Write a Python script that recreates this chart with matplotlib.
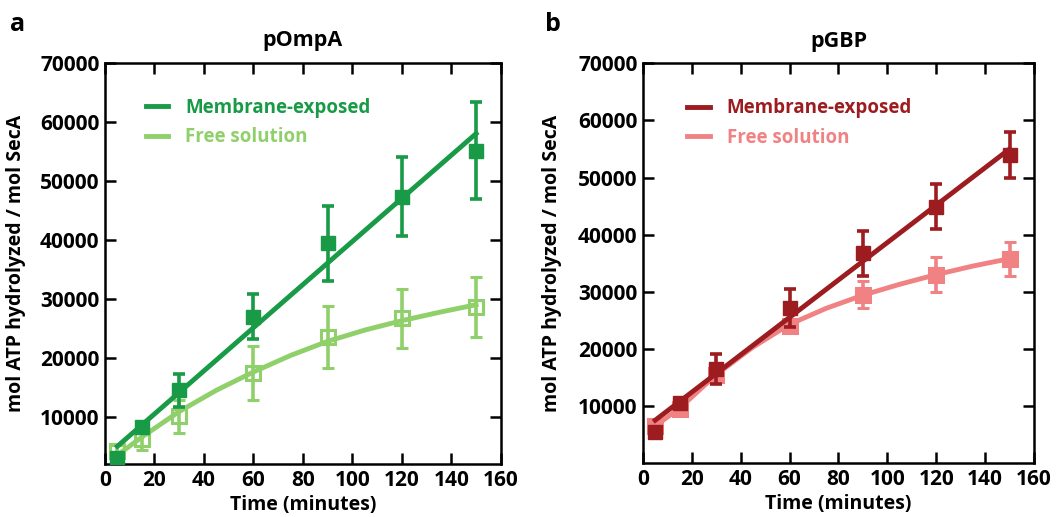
import matplotlib
matplotlib.use("Agg")
import matplotlib.pyplot as plt

plt.rcParams['font.family'] = ['Open Sans', 'DejaVu Sans']
plt.rcParams['font.weight'] = 'bold'

# time points (minutes)
t = [5, 15, 30, 60, 90, 120, 150]

# panel a: pOmpA
a_mem = [3100, 8200, 14500, 27000, 39400, 47300, 55100]
a_mem_err = [800, 900, 2800, 3800, 6300, 6700, 8200]
a_free = [4200, 6300, 10100, 17400, 23500, 26700, 28600]
a_free_err = [1000, 2000, 2800, 4600, 5300, 5000, 5100]
# fitted curves
a_mem_fit_t = [5, 150]
a_mem_fit = [5000, 58000]
a_free_fit_t = [5, 15, 30, 45, 60, 75, 90, 105, 120, 135, 150]
a_free_fit = [3500, 6600, 10900, 14500, 17600, 20400, 22800, 24700, 26300, 27700, 29000]

# panel b: pGBP
b_mem = [5500, 10500, 16500, 27100, 36700, 44900, 54000]
b_mem_err = [700, 700, 2600, 3300, 4000, 3900, 4000]
b_free = [6500, 9500, 15500, 24000, 29500, 33000, 35700]
b_free_err = [900, 900, 1000, 900, 2400, 3000, 3000]
b_mem_fit_t = [5, 150]
b_mem_fit = [7500, 55000]
b_free_fit_t = [5, 15, 30, 45, 60, 75, 90, 105, 120, 135, 150]
b_free_fit = [6500, 9600, 15500, 20300, 24300, 27100, 29400, 31300, 33000, 34500, 35800]

xticks = [0, 20, 40, 60, 80, 100, 120, 140, 160]
yticks = [10000, 20000, 30000, 40000, 50000, 60000, 70000]

fig = plt.figure(figsize=(10.64, 5.17), dpi=100)
ax1 = fig.add_axes([0.0987, 0.1025, 0.372, 0.776])
ax2 = fig.add_axes([0.6043, 0.1044, 0.3675, 0.773])


def draw(ax, mem, mem_err, free, free_err, mfit_t, mfit, ffit_t, ffit,
         c_dark, c_light, free_open, title, ymin, ylab_x, leg_x):
    ax.plot(ffit_t, ffit, color=c_light, lw=3.5, label='Free solution', zorder=2)
    ax.plot(mfit_t, mfit, color=c_dark, lw=3.5, label='Membrane-exposed', zorder=3)
    ax.errorbar(t, free, yerr=free_err, fmt='s', color=c_light, ms=10,
                mfc='none' if free_open else c_light, mec=c_light, mew=2.2,
                elinewidth=2.6, capsize=4.5, capthick=2.6, zorder=2)
    ax.errorbar(t, mem, yerr=mem_err, fmt='s', color=c_dark, ms=10,
                mfc=c_dark, mec=c_dark, elinewidth=2.6, capsize=4.5,
                capthick=2.6, zorder=3)
    ax.set_xlim(0, 160)
    ax.set_ylim(ymin, 70000)
    ax.set_xticks(xticks)
    ax.set_yticks(yticks)
    ax.tick_params(direction='in', length=8, width=1.8, top=True, right=True,
                   labelsize=15, pad=4)
    for s in ax.spines.values():
        s.set_linewidth(1.8)
    ax.set_title(title, fontsize=15.5, fontweight='bold', pad=12)
    ax.set_xlabel('Time (minutes)', fontsize=14, fontweight='bold', labelpad=3)
    ax.set_ylabel('mol ATP hydrolyzed / mol SecA', fontsize=14, fontweight='bold')
    ax.yaxis.set_label_coords(ylab_x, 0.5)
    handles, labels = ax.get_legend_handles_labels()
    leg = ax.legend(handles[::-1], labels[::-1], loc='upper left',
                    bbox_to_anchor=(leg_x, 0.955), frameon=False, fontsize=13.5,
                    handlelength=1.2, handletextpad=0.9, labelspacing=0.5)
    for txt, col in zip(leg.get_texts(), [c_dark, c_light]):
        txt.set_color(col)


draw(ax1, a_mem, a_mem_err, a_free, a_free_err, a_mem_fit_t, a_mem_fit,
     a_free_fit_t, a_free_fit, '#189a47', '#90d06b', True, 'pOmpA', 2000,
     -0.20, 0.06)
draw(ax2, b_mem, b_mem_err, b_free, b_free_err, b_mem_fit_t, b_mem_fit,
     b_free_fit_t, b_free_fit, '#9c1c20', '#f08283', False, 'pGBP', 0,
     -0.207, 0.07)

fig.text(0.009, 0.94, 'a', fontsize=18, fontweight='bold')
fig.text(0.512, 0.94, 'b', fontsize=18, fontweight='bold')

fig.savefig('out.png', dpi=100)
